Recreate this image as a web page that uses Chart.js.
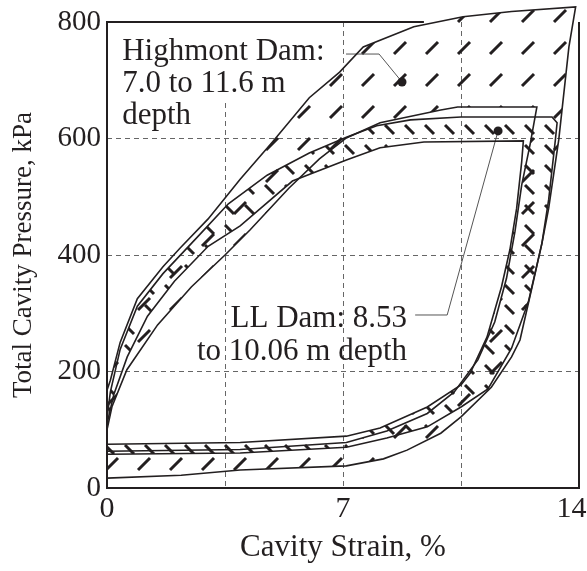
<!DOCTYPE html>
<html>
<head>
<meta charset="utf-8">
<script src="https://cdn.jsdelivr.net/npm/chart.js@4.4.1/dist/chart.umd.min.js"></script>
<style>
  html, body { margin: 0; padding: 0; background: #fff; }
</style>
</head>
<body>
<canvas id="chart" width="587" height="571"></canvas>
<script>
// envelope boundaries, [strain %, pressure kPa]
const highmontOuter = [
  [0, 17], [2.2, 22], [3.95, 31], [7.1, 38], [8.2, 50], [8.9, 65], [9.9, 94], [10.5, 122],
  [11.4, 173], [12.0, 225], [12.25, 254], [12.6, 343], [12.9, 420], [13.1, 480], [13.4, 598],
  [13.7, 757], [13.9, 826], [12, 818], [10.56, 809], [9.1, 792], [7.6, 757], [6.9, 714],
  [6.0, 670], [4.92, 595], [3.95, 530], [3, 462], [2.17, 412], [1.66, 380], [0.9, 325],
  [0.39, 250], [0.1, 185], [0, 168], [0, 17]
];
const highmontInner = [
  [0, 63], [3.95, 66], [7.1, 78], [8.3, 98], [9.5, 128], [10.3, 165], [11.0, 220], [11.5, 285],
  [11.85, 360], [12.1, 440], [12.3, 520], [12.55, 590], [12.75, 654], [10.4, 654], [9.9, 649],
  [8.1, 627], [7.1, 601], [6.3, 565], [5.4, 515], [4.24, 443], [3.5, 400], [2.5, 345],
  [1.5, 280], [0.59, 203], [0.15, 140], [0, 100], [0, 63]
];
const llOuter = [
  [0, 58], [3.95, 60], [7.1, 70], [8.3, 86], [9.5, 105], [10.5, 139], [11.3, 170], [12.0, 240],
  [12.5, 320], [12.9, 420], [13.1, 495], [13.3, 598], [13.35, 627], [13.2, 637], [10.5, 637],
  [9, 632], [8, 622], [7.1, 602], [6, 575], [4.75, 537], [3.6, 488], [2.7, 432], [1.66, 368],
  [0.9, 312], [0.39, 238], [0.1, 165], [0, 120], [0, 58]
];
const llInner = [
  [0, 75], [3.95, 78], [7.1, 89], [8.1, 103], [9.5, 139], [10.5, 177], [10.77, 197], [11.27, 259],
  [11.7, 345], [11.95, 409], [12.15, 480], [12.3, 560], [12.35, 596], [9.4, 594], [8.1, 584],
  [7.1, 563], [5.5, 527], [3.95, 450], [3, 415], [2, 355], [1.2, 295], [0.6, 225], [0.2, 160],
  [0, 110], [0, 75]
];

// label leaders: text end -> elbow -> dot
const highmontLeader = [[7.09, 745], [8.07, 745], [8.75, 697]];
const llLeader = [[9.14, 297], [10.09, 297], [11.6, 613]];

const highmontLabel = ['Highmont Dam:', '7.0 to 11.6 m', 'depth'];
const llLabel = ['LL Dam: 8.53', 'to 10.06 m depth'];

const xGrid = [0, 3.5, 7, 10.5, 14];
const xTicks = [0, 7, 14];
const yTicks = [0, 200, 400, 600, 800];

const FONT = '"Liberation Serif", "Times New Roman", serif';
const INK = '#231f20';

const pts = arr => arr.map(([x, y]) => ({ x, y }));

function boundary(arr) {
  return {
    data: pts(arr),
    showLine: true,
    borderColor: INK,
    borderWidth: 1.6,
    pointRadius: 0,
    tension: 0,
    clip: false
  };
}

function leader(arr) {
  return {
    data: pts(arr),
    showLine: true,
    borderColor: '#555',
    borderWidth: 1,
    pointRadius: [0, 0, 4.5],
    pointBackgroundColor: INK,
    pointBorderWidth: 0,
    tension: 0,
    clip: false
  };
}

function makeHatch(ctx, size, x0, y0, x1, y1) {
  const c = document.createElement('canvas');
  c.width = size;
  c.height = size;
  const g = c.getContext('2d');
  g.strokeStyle = INK;
  g.lineWidth = 3;
  g.beginPath();
  g.moveTo(x0, y0);
  g.lineTo(x1, y1);
  g.stroke();
  return ctx.createPattern(c, 'repeat');
}

function trace(ctx, meta) {
  meta.data.forEach((p, i) => (i ? ctx.lineTo(p.x, p.y) : ctx.moveTo(p.x, p.y)));
  ctx.closePath();
}

const decor = {
  id: 'decor',
  beforeDatasetsDraw(chart) {
    const { ctx, chartArea: a, scales } = chart;
    ctx.save();

    // white backing behind the first two lines of the Highmont label
    ctx.font = '31px ' + FONT;
    const tx = scales.x.getPixelForValue(0.45);
    const ty = scales.y.getPixelForValue(735);
    const w = Math.max(ctx.measureText(highmontLabel[0]).width, ctx.measureText(highmontLabel[1]).width);
    ctx.fillStyle = '#fff';
    ctx.fillRect(a.left + 1, a.top + 1, tx + w + 8 - a.left, ty + 40 - a.top);

    // frame; the top edge stops where the Highmont envelope rises past it
    ctx.strokeStyle = INK;
    ctx.lineWidth = 2;
    ctx.beginPath();
    ctx.moveTo(scales.x.getPixelForValue(9.4), a.top);
    ctx.lineTo(a.left, a.top);
    ctx.lineTo(a.left, a.bottom);
    ctx.lineTo(a.right, a.bottom);
    ctx.lineTo(a.right, a.top);
    ctx.stroke();

    // hatched bands between outer and inner loops
    const bands = [
      [0, 1, makeHatch(ctx, 32, 10, 22, 22, 10)],
      [2, 3, makeHatch(ctx, 20, 5, 5, 14, 14)]
    ];
    bands.forEach(([o, i, pattern]) => {
      ctx.beginPath();
      trace(ctx, chart.getDatasetMeta(o));
      trace(ctx, chart.getDatasetMeta(i));
      ctx.fillStyle = pattern;
      ctx.fill('evenodd');
    });
    ctx.restore();
  },
  afterDatasetsDraw(chart) {
    const { ctx, scales } = chart;
    ctx.save();
    ctx.font = '31px ' + FONT;
    ctx.fillStyle = INK;
    ctx.textBaseline = 'alphabetic';

    let x = scales.x.getPixelForValue(0.45);
    let y = scales.y.getPixelForValue(735);
    ctx.textAlign = 'left';
    highmontLabel.forEach((t, i) => ctx.fillText(t, x, y + i * 32));

    x = scales.x.getPixelForValue(8.9);
    y = scales.y.getPixelForValue(276);
    ctx.textAlign = 'right';
    llLabel.forEach((t, i) => ctx.fillText(t, x, y + i * 33));
    ctx.restore();
  }
};

const edgeColor = (ctx, lo, hi) =>
  ctx.tick && (ctx.tick.value === lo || ctx.tick.value === hi) ? 'rgba(0,0,0,0)' : '#666';

new Chart(document.getElementById('chart'), {
  type: 'scatter',
  data: {
    datasets: [
      boundary(highmontOuter),
      boundary(highmontInner),
      boundary(llOuter),
      boundary(llInner),
      leader(highmontLeader),
      leader(llLeader)
    ]
  },
  options: {
    responsive: false,
    animation: false,
    layout: { padding: { top: 22, right: 8, left: 0, bottom: 0 } },
    plugins: { legend: { display: false }, tooltip: { enabled: false } },
    scales: {
      x: {
        type: 'linear',
        min: 0,
        max: 14,
        afterBuildTicks: s => { s.ticks = xGrid.map(v => ({ value: v })); },
        afterFit: s => { s.height = 83; s.paddingLeft = 0; s.paddingRight = 0; },
        grid: { color: c => edgeColor(c, 0, 14), lineWidth: 1, drawTicks: false },
        border: { display: false, dash: [5, 4] },
        ticks: {
          autoSkip: false,
          maxRotation: 0,
          padding: 3,
          color: INK,
          font: { family: FONT, size: 30 },
          callback: v => (xTicks.includes(v) ? (v === 14 ? '14\u2002' : String(v)) : '')
        },
        title: {
          display: true,
          text: 'Cavity Strain, %',
          color: INK,
          font: { family: FONT, size: 31 },
          padding: { top: 0, bottom: 5 }
        }
      },
      y: {
        type: 'linear',
        min: 0,
        max: 800,
        afterBuildTicks: s => { s.ticks = yTicks.map(v => ({ value: v })); },
        afterFit: s => { s.width = 107; s.paddingTop = 0; s.paddingBottom = 0; },
        grid: { color: c => edgeColor(c, 0, 800), lineWidth: 1, drawTicks: false },
        border: { display: false, dash: [5, 4] },
        ticks: {
          padding: 6,
          color: INK,
          font: { family: FONT, size: 29 }
        },
        title: {
          display: true,
          text: 'Total Cavity Pressure, kPa',
          color: INK,
          font: { family: FONT, size: 27 },
          padding: { top: 8, bottom: 0 }
        }
      }
    }
  },
  plugins: [decor]
});
</script>
</body>
</html>
